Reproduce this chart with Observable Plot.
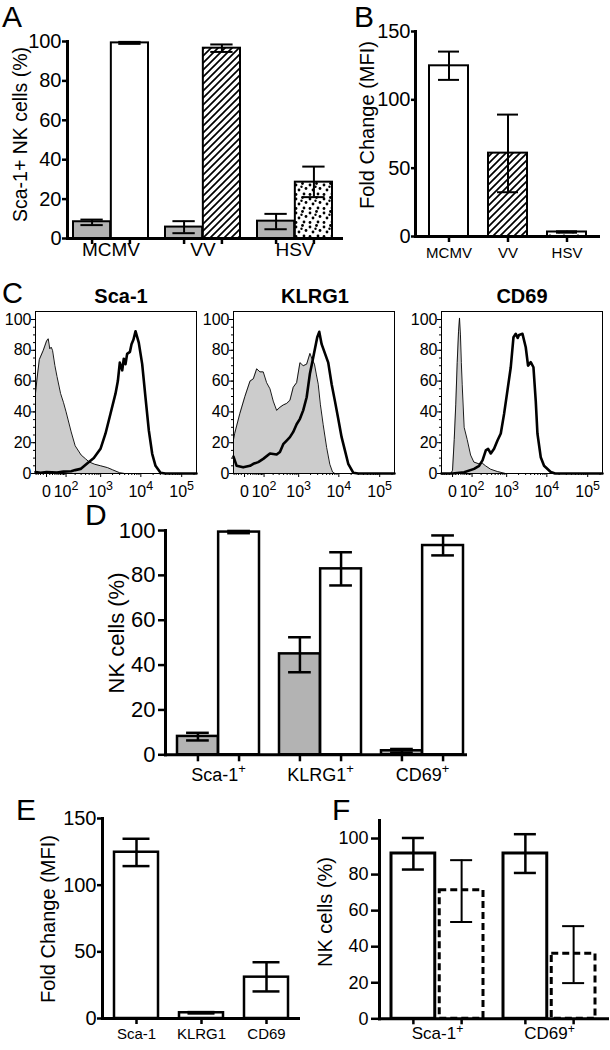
<!DOCTYPE html>
<html>
<head>
<meta charset="utf-8">
<script src="https://cdn.jsdelivr.net/npm/d3@7"></script>
<script src="https://cdn.jsdelivr.net/npm/@observablehq/plot@0.6"></script>
<style>
  html, body { margin: 0; padding: 0; background: #fff; }
  #fig { position: relative; width: 610px; height: 1050px; overflow: hidden; background: #fff;
         font-family: "Liberation Sans", Arial, Helvetica, sans-serif; }
</style>
</head>
<body>
<svg width="0" height="0" style="position:absolute">
  <defs>
    <pattern id="hatch" patternUnits="userSpaceOnUse" width="7" height="7">
      <rect width="7" height="7" fill="white"/>
      <path d="M-1,1 L1,-1 M0,7 L7,0 M6,8 L8,6" stroke="black" stroke-width="1.7"/>
    </pattern>
    <pattern id="dots" patternUnits="userSpaceOnUse" width="14" height="14">
      <rect width="14" height="14" fill="white"/>
      <g fill="black">
        <circle cx="2" cy="3" r="1.4"/><circle cx="8.5" cy="1.5" r="1.4"/>
        <circle cx="12" cy="6.5" r="1.4"/><circle cx="5" cy="8" r="1.4"/>
        <circle cx="10" cy="12" r="1.4"/><circle cx="2" cy="12.5" r="1.4"/>
        <circle cx="7.5" cy="4.8" r="1.2"/>
      </g>
    </pattern>
  </defs>
</svg>
<div id="fig"></div>
<script>
// ---------------- DATA ----------------
// Panel A: % Sca-1+ NK cells (mock = grey, infected = patterned)
const virusGroups = ["MCMV", "VV", "HSV"];
const mockA = [8.5, 5.8, 8.8];
const mockALo = [6.8, 2.7, 4.7];
const mockAHi = [9.6, 8.8, 12.5];
const infectedA = [99.3, 96.6, 28.6];
const infectedALo = [98.8, 94.7, 21.0];
const infectedAHi = [99.8, 98.5, 36.5];
const infectedFills = ["white", "url(#hatch)", "url(#dots)"];

// Panel B: fold change (MFI)
const foldB = [124.9, 61.0, 3.3];
const foldBLo = [114.6, 32.4, 2.8];
const foldBHi = [135.3, 89.2, 3.8];

// Panel C: flow histograms  [fluorescence, % of max]
const flowTitles = ["Sca-1", "KLRG1", "CD69"];
const flowTicks = [0, 100, 1000, 10000, 100000];
const flowTickLabels = ["0", "10^2", "10^3", "10^4", "10^5"];
const sca1Ctrl = [[-43,52],[-35,62],[-25,74],[-10,80],[0,86],[5,87.5],[10,81],[15,82],[20,80],[30,70],[40,63],[60,52],[80,46],[100,40],[150,27],[200,18],[300,12],[400,9.5],[500,7.5],[700,6],[1000,5],[1500,3.8],[2000,2.4],[3000,0.5],[4000,0],[230000,0]];
const sca1Pos = [[-43,1],[-20,0.5],[0,1],[40,0.6],[80,1.2],[150,1.5],[200,2.2],[290,3],[440,6.5],[665,10],[990,16],[1330,26],[1780,39],[2375,52],[2710,60],[3030,72],[3480,67],[3800,74.5],[4200,71],[4600,77.7],[5400,79],[5900,84],[6600,87],[7400,92.4],[8900,85],[10800,71],[13000,49.5],[15700,28],[19000,12.8],[22900,5],[30400,0.5],[40000,0],[230000,0]];
const klrg1Ctrl = [[-43,22],[-37,26],[-15,39],[1,50],[18,60],[32,61.5],[49,68],[69,66],[93,66],[123,59],[159,55],[201,47],[254,41],[316,43],[391,44.5],[484,45.5],[592,47.5],[724,56],[886,59],[1078,72],[1305,70],[1595,71],[1930,78],[2200,74],[2500,71],[2800,64],[3100,58],[3500,45],[4100,32],[5000,17],[6000,6],[7000,1],[8000,0],[230000,0]];
const klrg1Pos = [[-43,11],[-28,5],[-4,4],[18,5],[32,6.3],[58,7.4],[93,9.5],[159,13],[254,12.3],[316,14],[391,19],[484,21.4],[592,23.6],[724,27],[886,32],[1078,35.5],[1305,41],[1595,49.5],[1930,65],[2335,75.5],[2935,88.5],[3290,92],[3770,84],[4550,78],[5490,72],[6660,58],[8025,47],[9670,35.5],[11700,23.6],[14100,15],[17000,6.3],[22500,0.5],[30000,0],[230000,0]];
const cd69Ctrl = [[-43,0],[-5,0],[0,2],[5,22],[10,45],[15,72],[20,92],[24,101],[28,90],[32,72],[36,58],[46,30],[64,22],[88,12],[116,7.4],[170,6.3],[216,6.7],[270,5],[374,2.8],[568,1.3],[935,0],[230000,0]];
const cd69Pos = [[-43,0],[0,0],[46,0.8],[118,3],[173,5],[220,8.5],[275,15],[320,16],[380,13],[467,16],[576,21.4],[704,26],[858,38.7],[1048,54],[1272,69],[1490,88.5],[1700,90.7],[1900,88],[2060,90],[2505,90.7],[3020,82],[3445,70],[4020,72.3],[4685,69],[5340,47],[5875,26],[7085,10.6],[8540,5],[12460,1],[16000,0],[230000,0]];

// Panel D: % NK cells positive (control = grey, infected = white)
const markersD = ["Sca-1^+", "KLRG1^+", "CD69^+"];
const ctrlD = [8.2, 45.0, 1.8];
const ctrlDLo = [6.4, 36.8, 1.0];
const ctrlDHi = [9.8, 52.4, 2.6];
const infD = [99.3, 82.9, 93.3];
const infDLo = [98.8, 75.5, 88.9];
const infDHi = [99.8, 90.3, 97.8];

// Panel E: fold change (MFI)
const markersE = ["Sca-1", "KLRG1", "CD69"];
const foldE = [124.7, 4.3, 31.0];
const foldELo = [114.3, 3.8, 20.3];
const foldEHi = [134.8, 4.8, 42.2];

// Panel F: % NK cells (solid vs dashed)
const markersF = ["Sca-1^+", "CD69^+"];
const solidF = [91.7, 91.7];
const solidFLo = [82.8, 80.9];
const solidFHi = [100.3, 102.4];
const dashedF = [71.3, 36.1];
const dashedFLo = [53.7, 19.8];
const dashedFHi = [88.0, 51.4];

// ---------------- RENDER ----------------
const FONT = '"Liberation Sans", Arial, Helvetica, sans-serif';
const fig = document.getElementById("fig");
const SVGNS = "http://www.w3.org/2000/svg";

function supify(root, size = "0.72em") {
  root.querySelectorAll("text, tspan").forEach(t => {
    if (t.children.length) return;
    const m = (t.textContent || "").match(/^(.*)\^(.+)$/);
    if (!m) return;
    t.textContent = m[1];
    const ts = document.createElementNS(SVGNS, "tspan");
    ts.setAttribute("dy", "-0.55em");
    ts.setAttribute("font-size", size);
    ts.textContent = m[2];
    t.appendChild(ts);
  });
}
function mount(el, left, top, supSize) {
  el.style.position = "absolute";
  el.style.left = left + "px";
  el.style.top = top + "px";
  el.style.maxWidth = "none";
  fig.appendChild(el);
  supify(el, supSize);
}
const baseStyle = (fs) => ({fontFamily: FONT, fontSize: fs + "px", color: "black", background: "transparent", overflow: "visible"});

function barPanel(o) {
  const N = o.groups.length, n = o.series.length;
  const range = o.width - o.ml - o.mr;
  const step = range / (N - o.pi + 2 * o.po);
  const bw = step * (1 - o.pi);
  const gap = o.gap || 0;
  const barW = (bw - gap * (n - 1)) / n;
  const marks = [];
  const below = [];
  o.series.forEach((s, k) => {
    const rows = o.groups.map((g, i) => ({g, v: s.values[i], lo: s.lo[i], hi: s.hi[i], fill: s.fills[i]}));
    const left = k * (barW + gap);
    const inL = left, inR = bw - left - barW;
    const dx = left + barW / 2 - bw / 2;
    const capIn = (barW - o.cap) / 2;
    for (const f of new Set(s.fills)) {
      marks.push(Plot.barY(rows.filter(r => r.fill === f), {
        x: "g", y: "v", fill: f, stroke: "black", strokeWidth: o.barStroke,
        strokeDasharray: s.dash, insetLeft: inL, insetRight: inR
      }));
    }
    marks.push(Plot.ruleX(rows, {x: "g", y1: "lo", y2: "hi", dx, stroke: "black", strokeWidth: s.err || o.errStroke}));
    for (const key of ["lo", "hi"]) {
      marks.push(Plot.tickY(rows, {x: "g", y: key, insetLeft: inL + capIn, insetRight: inR + capIn,
        stroke: "black", strokeWidth: s.err || o.errStroke}));
    }
    below.push(Plot.axisX({ticks: o.groups, tickSize: o.xTick, tickFormat: () => "", dx,
      strokeWidth: 2.5, label: null}));
  });
  const chart = Plot.plot({
    width: o.width, height: o.height,
    marginLeft: o.ml, marginRight: o.mr, marginTop: o.mt, marginBottom: o.mb,
    x: {type: "band", domain: o.groups, paddingInner: o.pi, paddingOuter: o.po, align: o.align},
    y: {domain: o.yDomain},
    style: baseStyle(o.yFont),
    marks: [
      ...marks,
      ...below,
      Plot.axisX({ticks: o.groups, tickSize: 0, tickPadding: o.xPad, fontSize: o.xFont, label: null}),
      Plot.axisY({ticks: o.yTicks, tickSize: o.yTick, tickPadding: o.yPad, fontSize: o.yFont, strokeWidth: 2.5, label: null}),
      Plot.frame({anchor: "left", stroke: "black", strokeWidth: 3}),
      Plot.frame({anchor: "bottom", stroke: "black", strokeWidth: 3})
    ]
  });
  mount(chart, o.left, o.top);
}

// Panel A
barPanel({
  left: 0, top: 0, width: 345, height: 270, ml: 67, mr: 4, mt: 41, mb: 32,
  groups: virusGroups, pi: 0.18, po: 0.0745, align: 0.4,
  yDomain: [0, 100], yTicks: d3.range(0, 101, 20),
  yFont: 20, yTick: 5, yPad: 1, xFont: 19, xPad: 4, xTick: 6,
  barStroke: 2, errStroke: 2, cap: 23,
  series: [
    {values: mockA, lo: mockALo, hi: mockAHi, fills: ["#b3b3b3", "#b3b3b3", "#b3b3b3"]},
    {values: infectedA, lo: infectedALo, hi: infectedAHi, fills: infectedFills}
  ]
});

// Panel B
barPanel({
  left: 330, top: 0, width: 280, height: 270, ml: 85, mr: 12, mt: 31, mb: 34,
  groups: virusGroups, pi: 0.333, po: 0.192, align: 0.565,
  yDomain: [0, 150], yTicks: [0, 50, 100, 150],
  yFont: 20, yTick: 4, yPad: 1, xFont: 15, xPad: 11, xTick: 6,
  barStroke: 2, errStroke: 2, cap: 22,
  series: [
    {values: foldB, lo: foldBLo, hi: foldBHi, fills: infectedFills}
  ]
});

// Panel C
const minorFlow = [-40, -30, -20, -10]
  .concat(d3.range(10, 100, 10), d3.range(200, 1000, 100), d3.range(2000, 10000, 1000), d3.range(20000, 100000, 10000), [200000]);
const flowSets = [[sca1Ctrl, sca1Pos], [klrg1Ctrl, klrg1Pos], [cd69Ctrl, cd69Pos]];
const flowLefts = [0, 198.3, 405.7];
flowSets.forEach(([ctrl, pos], i) => {
  const X = d => d[0], Y = d => d[1];
  const chart = Plot.plot({
    width: 205, height: 230, marginLeft: 35, marginRight: 9, marginTop: 31, marginBottom: 37,
    x: {type: "symlog", constant: 50, domain: [-43, 230000]},
    y: {domain: [0, 105.2]},
    style: baseStyle(16),
    marks: [
      Plot.areaY(ctrl, {x: X, y: Y, fill: "#cccccc"}),
      Plot.lineY(ctrl, {x: X, y: Y, stroke: "black", strokeWidth: 0.9}),
      Plot.lineY(pos, {x: X, y: Y, stroke: "black", strokeWidth: 2.6, strokeLinejoin: "round"}),
      Plot.frame({stroke: "black", strokeWidth: 1}),
      Plot.axisY({ticks: d3.range(0, 101, 20), tickSize: 4, tickPadding: 0, fontSize: 16, label: null}),
      Plot.axisY({ticks: d3.range(0, 105, 5), tickSize: 2, tickFormat: () => "", label: null}),
      Plot.axisX({ticks: flowTicks, tickSize: 4, tickPadding: 8, fontSize: 16, label: null,
        tickFormat: d => flowTickLabels[flowTicks.indexOf(d)]}),
      Plot.axisX({ticks: minorFlow, tickSize: 2, tickFormat: () => "", label: null})
    ]
  });
  mount(chart, flowLefts[i], 280, "0.78em");
});

// Panel D
barPanel({
  left: 100, top: 505, width: 375, height: 295, ml: 65, mr: 10, mt: 25, mb: 45.7,
  groups: markersD, pi: 0.2, po: 0.0585, align: 0.833,
  yDomain: [0, 100], yTicks: d3.range(0, 101, 20),
  yFont: 22, yTick: 7, yPad: 3, xFont: 18, xPad: 13, xTick: 7,
  barStroke: 2.5, errStroke: 2.5, cap: 23,
  series: [
    {values: ctrlD, lo: ctrlDLo, hi: ctrlDHi, fills: ["#b3b3b3", "#b3b3b3", "#b3b3b3"]},
    {values: infD, lo: infDLo, hi: infDHi, fills: ["white", "white", "white"]}
  ]
});

// Panel E
barPanel({
  left: 0, top: 780, width: 305, height: 270, ml: 102, mr: 7, mt: 38, mb: 32,
  groups: markersE, pi: 0.33, po: 0.156, align: 0.54,
  yDomain: [0, 150], yTicks: [0, 50, 100, 150],
  yFont: 20, yTick: 5, yPad: 1, xFont: 15, xPad: 10, xTick: 6,
  barStroke: 2.5, errStroke: 2.5, cap: 27,
  series: [
    {values: foldE, lo: foldELo, hi: foldEHi, fills: ["white", "white", "white"]}
  ]
});

// Panel F
barPanel({
  left: 300, top: 780, width: 310, height: 270, ml: 79, mr: 3, mt: 40, mb: 31.7,
  groups: markersF, pi: 0.177, po: 0.0975, align: 0.52, gap: 3.5,
  yDomain: [0, 110], yTicks: d3.range(0, 101, 20),
  yFont: 18, yTick: 8, yPad: 3, xFont: 17, xPad: 8.5, xTick: 6,
  barStroke: 3, errStroke: 2.5, cap: 23,
  series: [
    {values: solidF, lo: solidFLo, hi: solidFHi, fills: ["white", "white"]},
    {values: dashedF, lo: dashedFLo, hi: dashedFHi, fills: ["white", "white"], dash: "7,4", err: 2}
  ]
});

// Overlay: panel letters, titles, axis titles
const overlay = document.createElementNS(SVGNS, "svg");
overlay.setAttribute("width", 610);
overlay.setAttribute("height", 1050);
overlay.style.position = "absolute";
overlay.style.left = "0px";
overlay.style.top = "0px";
overlay.style.pointerEvents = "none";
overlay.setAttribute("font-family", FONT);
function addText(str, x, y, size, opts = {}) {
  const t = document.createElementNS(SVGNS, "text");
  t.textContent = str;
  if (opts.rotate) {
    t.setAttribute("transform", `translate(${x},${y}) rotate(-90)`);
    t.setAttribute("text-anchor", "middle");
    t.setAttribute("dy", "0.35em");
  } else {
    t.setAttribute("x", x);
    t.setAttribute("y", y);
    if (opts.anchor) t.setAttribute("text-anchor", opts.anchor);
  }
  t.setAttribute("font-size", size);
  if (opts.bold) t.setAttribute("font-weight", "bold");
  t.setAttribute("fill", "black");
  overlay.appendChild(t);
}
addText("A", 2, 27, 30);
addText("B", 354, 27, 30);
addText("C", 2, 303, 29);
addText("D", 85, 525, 30);
addText("E", 16, 820, 30);
addText("F", 332, 820, 30);
addText(flowTitles[0], 121, 303, 20, {anchor: "middle", bold: true});
addText(flowTitles[1], 315, 303, 20, {anchor: "middle", bold: true});
addText(flowTitles[2], 522, 303, 20, {anchor: "middle", bold: true});
addText("Sca-1+ NK cells (%)", 20, 134.5, 19.5, {rotate: true});
addText("Fold Change (MFI)", 367, 125, 20, {rotate: true});
addText("NK cells (%)", 116, 633, 22, {rotate: true});
addText("Fold Change (MFI)", 48, 919, 20, {rotate: true});
addText("NK cells (%)", 325, 912, 20, {rotate: true});
fig.appendChild(overlay);
</script>
</body>
</html>
